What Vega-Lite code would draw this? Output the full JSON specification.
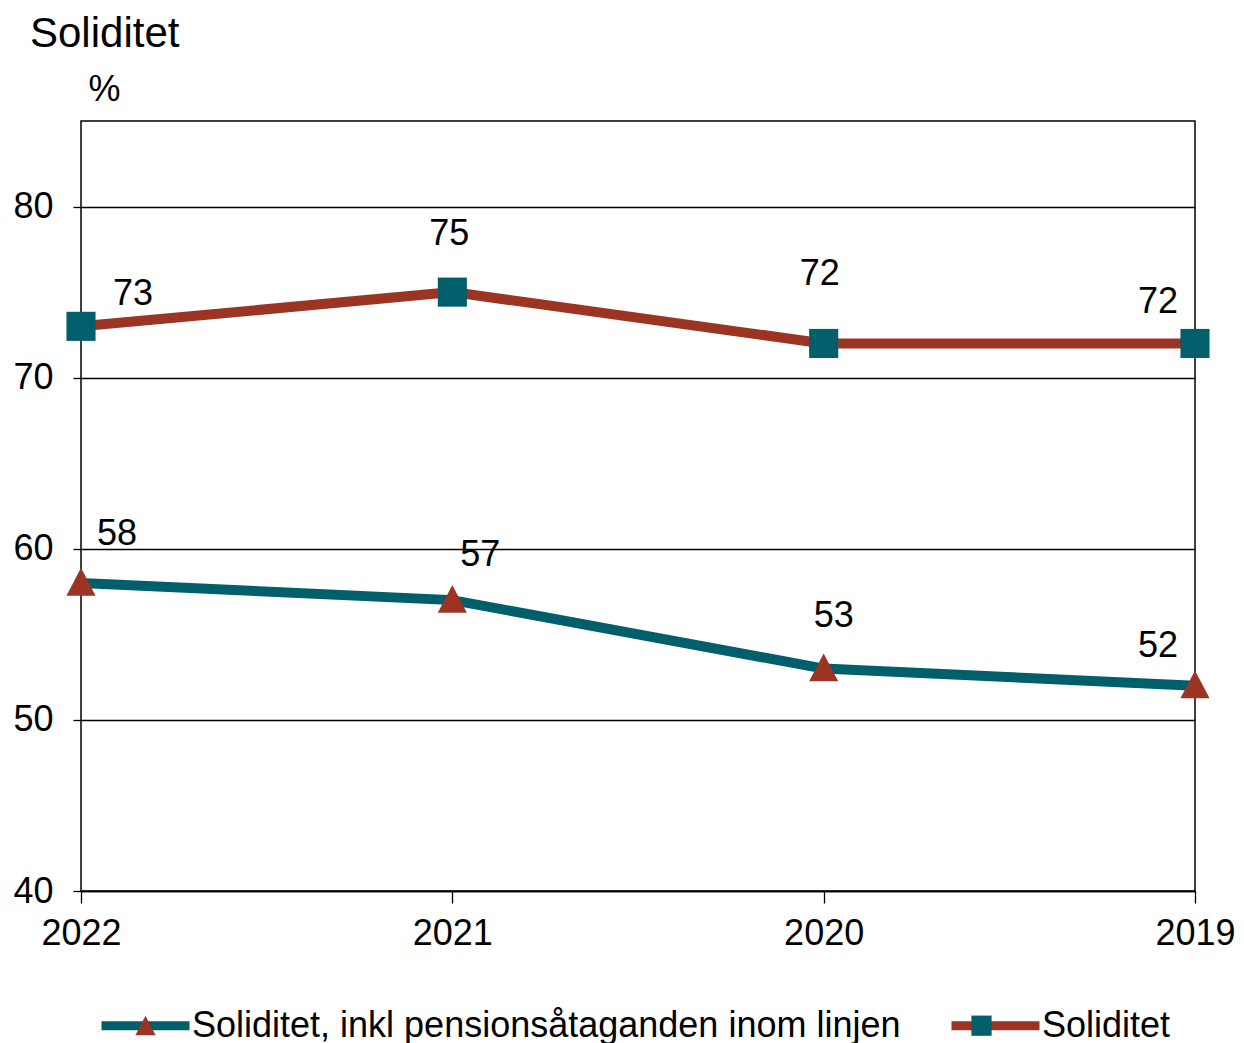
{
  "$schema": "https://vega.github.io/schema/vega-lite/v6.json",
  "autosize": {"type": "none"},
  "padding": {"left": 81, "top": 121, "right": 49, "bottom": 152},
  "width": 1114,
  "height": 770,
  "background": "white",
  "config": {
    "font": "Liberation Sans",
    "view": {"stroke": "black", "strokeWidth": 1.5},
    "axis": {"labelColor": "black", "labelFontSize": 36, "tickColor": "black", "domainColor": "black", "labelFont": "Liberation Sans"}
  },
  "title": {"text": "Soliditet", "anchor": "start", "frame": "group", "fontSize": 42, "fontWeight": "normal", "color": "black", "dx": -51, "offset": 15},
  "data": {
    "values": [
      {"year": "2022", "series": "Soliditet", "value": 73},
      {"year": "2021", "series": "Soliditet", "value": 75},
      {"year": "2020", "series": "Soliditet", "value": 72},
      {"year": "2019", "series": "Soliditet", "value": 72},
      {"year": "2022", "series": "Soliditet, inkl pensionsåtaganden inom linjen", "value": 58},
      {"year": "2021", "series": "Soliditet, inkl pensionsåtaganden inom linjen", "value": 57},
      {"year": "2020", "series": "Soliditet, inkl pensionsåtaganden inom linjen", "value": 53},
      {"year": "2019", "series": "Soliditet, inkl pensionsåtaganden inom linjen", "value": 52}
    ]
  },
  "encoding": {
    "x": {"field": "year", "type": "ordinal", "sort": ["2022", "2021", "2020", "2019"], "scale": {"padding": 0},
      "axis": {"title": null, "labelAngle": 0, "tickSize": 12, "tickWidth": 1.3, "domainWidth": 1.5, "labelPadding": 13, "grid": false}},
    "y": {"field": "value", "type": "quantitative", "scale": {"domain": [40, 85], "nice": false, "zero": false},
      "axis": {"values": [40, 50, 60, 70, 80], "grid": true, "gridColor": "black", "gridWidth": 1.3, "gridOpacity": 1, "tickSize": 8, "tickWidth": 1.3, "domain": false, "labelPadding": 20,
        "title": "%", "titleAngle": 0, "titleFontSize": 36, "titleFontWeight": "normal", "titleColor": "black", "titleAlign": "left", "titleBaseline": "alphabetic", "titleX": 7, "titleY": -21}}
  },
  "layer": [
    {
      "mark": {"type": "line", "strokeWidth": 10},
      "encoding": {
        "stroke": {"field": "series", "type": "nominal", "sort": ["Soliditet, inkl pensionsåtaganden inom linjen", "Soliditet"],
          "scale": {"range": ["#005F6A", "#9C3424"]},
          "legend": {"orient": "none", "legendX": 16, "legendY": 856, "direction": "horizontal", "title": null, "symbolType": "stroke", "symbolSize": 7744, "symbolStrokeWidth": 9, "labelFontSize": 36, "labelColor": "black", "labelLimit": 1000, "columnPadding": 32, "labelOffset": -2, "zindex": 0}}
      }
    },
    {
      "mark": {"type": "point", "filled": true, "opacity": 1, "size": 16000, "strokeWidth": 0},
      "encoding": {
        "fill": {"field": "series", "type": "nominal",
          "scale": {"domain": ["Soliditet, inkl pensionsåtaganden inom linjen", "Soliditet"], "range": ["#9C3424", "#005F6A"]},
          "legend": {"orient": "none", "legendX": 16, "legendY": 856, "direction": "horizontal", "title": null, "symbolSize": 7744, "symbolStrokeWidth": 9, "symbolStrokeColor": "transparent", "symbolOpacity": 1, "labelFontSize": 36, "labelOpacity": 0, "labelLimit": 1000, "columnPadding": 32, "labelOffset": -2, "zindex": 1}},
        "shape": {"field": "series", "type": "nominal",
          "scale": {"domain": ["Soliditet, inkl pensionsåtaganden inom linjen", "Soliditet"], "range": ["M0,-0.24L0.23,0.2L-0.23,0.2Z", "M-0.23,-0.23H0.23V0.23H-0.23Z"]}}
      }
    },
    {"transform": [{"filter": "datum.series == 'Soliditet' && datum.year == '2022'"}], "mark": {"type": "text", "fontSize": 36, "color": "black", "baseline": "middle", "align": "center", "dx": 52, "dy": -32}, "encoding": {"text": {"field": "value", "type": "quantitative"}}},
    {"transform": [{"filter": "datum.series == 'Soliditet' && datum.year == '2021'"}], "mark": {"type": "text", "fontSize": 36, "color": "black", "baseline": "middle", "align": "center", "dx": -3, "dy": -58}, "encoding": {"text": {"field": "value", "type": "quantitative"}}},
    {"transform": [{"filter": "datum.series == 'Soliditet' && datum.year == '2020'"}], "mark": {"type": "text", "fontSize": 36, "color": "black", "baseline": "middle", "align": "center", "dx": -4, "dy": -69}, "encoding": {"text": {"field": "value", "type": "quantitative"}}},
    {"transform": [{"filter": "datum.series == 'Soliditet' && datum.year == '2019'"}], "mark": {"type": "text", "fontSize": 36, "color": "black", "baseline": "middle", "align": "center", "dx": -37, "dy": -41}, "encoding": {"text": {"field": "value", "type": "quantitative"}}},
    {"transform": [{"filter": "datum.series != 'Soliditet' && datum.year == '2022'"}], "mark": {"type": "text", "fontSize": 36, "color": "black", "baseline": "middle", "align": "center", "dx": 36, "dy": -49}, "encoding": {"text": {"field": "value", "type": "quantitative"}}},
    {"transform": [{"filter": "datum.series != 'Soliditet' && datum.year == '2021'"}], "mark": {"type": "text", "fontSize": 36, "color": "black", "baseline": "middle", "align": "center", "dx": 28, "dy": -45}, "encoding": {"text": {"field": "value", "type": "quantitative"}}},
    {"transform": [{"filter": "datum.series != 'Soliditet' && datum.year == '2020'"}], "mark": {"type": "text", "fontSize": 36, "color": "black", "baseline": "middle", "align": "center", "dx": 10, "dy": -53}, "encoding": {"text": {"field": "value", "type": "quantitative"}}},
    {"transform": [{"filter": "datum.series != 'Soliditet' && datum.year == '2019'"}], "mark": {"type": "text", "fontSize": 36, "color": "black", "baseline": "middle", "align": "center", "dx": -37, "dy": -40}, "encoding": {"text": {"field": "value", "type": "quantitative"}}}
  ]
}
